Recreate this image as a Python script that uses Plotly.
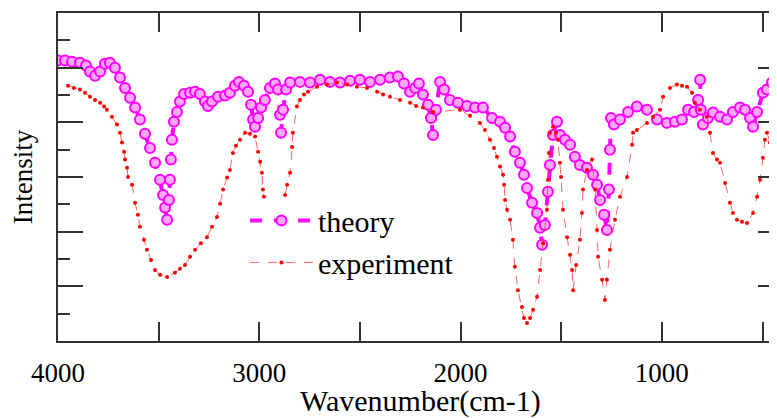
import plotly.graph_objects as go

# Theory spectrum (wavenumber cm-1, intensity)
theory_wn = [4000, 3965, 3930, 3891, 3861, 3841, 3816, 3791, 3767, 3742, 3717, 3692, 3667, 3642, 3617,
             3593, 3568, 3543, 3518, 3493, 3478, 3468, 3458, 3449, 3444, 3439, 3434, 3424, 3409, 3394,
             3374, 3344, 3319, 3295, 3270, 3255, 3235, 3205, 3170, 3146, 3121, 3101, 3076, 3056, 3041,
             3031, 3021, 3006, 2991, 2972, 2947, 2922, 2907, 2897, 2892, 2882, 2867, 2847, 2798, 2748,
             2698, 2649, 2599, 2549, 2500, 2450, 2400, 2351, 2311, 2281, 2251, 2226, 2207, 2187, 2162,
             2147, 2137, 2122, 2102, 2082, 2053, 2013, 1968, 1928, 1889, 1844, 1804, 1779, 1754, 1730,
             1705, 1685, 1670, 1645, 1620, 1605, 1595, 1581, 1566, 1556, 1541, 1521, 1506, 1481, 1456,
             1432, 1407, 1372, 1342, 1322, 1307, 1287, 1273, 1263, 1258, 1253, 1238, 1208, 1168, 1124,
             1074, 1024, 975, 935, 900, 870, 840, 820, 810, 806, 796, 771, 746, 711, 676,
             647, 612, 587, 562, 547, 527, 498, 478, 453, 428, 410]
theory_int = [5.13, 5.13, 5.11, 5.09, 5.04, 4.93, 4.85, 4.93, 5.07, 5.09, 5.00, 4.82, 4.63, 4.45, 4.27,
              4.05, 3.79, 3.53, 3.26, 2.95, 2.67, 2.44, 2.22, 2.58, 2.95, 3.32, 3.68, 4.01, 4.19, 4.38,
              4.52, 4.54, 4.56, 4.52, 4.38, 4.30, 4.38, 4.47, 4.49, 4.54, 4.67, 4.74, 4.67, 4.56, 4.32,
              4.05, 3.92, 4.08, 4.27, 4.41, 4.63, 4.71, 4.60, 4.14, 3.81, 4.23, 4.60, 4.73, 4.74, 4.73,
              4.78, 4.74, 4.73, 4.76, 4.78, 4.74, 4.78, 4.82, 4.84, 4.71, 4.56, 4.63, 4.71, 4.51, 4.32,
              4.08, 3.77, 4.23, 4.74, 4.60, 4.41, 4.36, 4.30, 4.27, 4.27, 4.08, 4.01, 3.90, 3.74, 3.46,
              3.26, 3.04, 2.80, 2.53, 2.34, 2.07, 1.76, 2.12, 2.73, 3.22, 3.77, 4.01, 3.77, 3.68, 3.59,
              3.37, 3.22, 3.17, 3.04, 2.86, 2.58, 2.31, 2.03, 2.77, 3.50, 4.08, 3.96, 4.05, 4.19, 4.29,
              4.23, 4.05, 3.99, 4.01, 4.05, 4.23, 4.19, 4.41, 4.78, 4.23, 3.96, 4.08, 4.18, 4.10, 4.05,
              4.19, 4.27, 4.23, 4.08, 3.92, 4.19, 4.54, 4.60, 4.73, 4.82, 4.90]

# Experimental spectrum (None marks a gap in the record)
exp_wn = [3950, 3921, 3891, 3866, 3841, 3816, 3791, 3771, 3757, 3732, 3707, 3692, 3682, 3672, 3667,
          3657, 3652, 3632, 3617, 3603, 3593, 3573, 3558, 3538, 3518, 3493, 3458, 3419, 3394, 3369,
          3344, 3319, 3290, 3260, 3235, 3210, 3195, 3180, 3160, 3146, 3131, 3116, 3096, 3071, 3046,
          3021, 3006, 2996, 2987, 2982, 2977, None, 2872, 2862, 2847, 2837, 2833, 2813, 2798, 2778,
          2758, 2713, 2664, 2614, 2564, 2515, 2465, 2415, 2385, 2351, 2301, 2251, 2221, 2187, 2137,
          2003, 1953, 1904, 1879, 1854, 1834, 1819, 1804, 1789, 1784, 1779, 1769, 1754, 1740, 1730,
          1715, 1695, 1685, 1670, 1655, 1640, 1620, 1605, 1590, 1571, 1566, 1561, 1556, 1541, 1526,
          1516, 1506, 1501, 1491, 1471, 1456, 1446, 1441, 1426, 1407, 1397, 1392, 1372, 1347, 1332,
          1322, 1317, 1297, 1283, 1273, 1258, 1233, 1208, 1173, 1148, 1143, 1124, 1074, 1044, 1009,
          994, 960, 925, 900, 875, 850, 836, 811, 776, 761, 746, 726, 711, 686, 662,
          647, 627, 602, 577, 547, 527, 512, 498, 488, 478, 463, 448, 428]
exp_int = [4.67, 4.63, 4.60, 4.54, 4.47, 4.41, 4.36, 4.29, 4.23, 4.10, 3.96, 3.81, 3.63, 3.46, 3.32,
           3.17, 3.00, 2.86, 2.53, 2.31, 2.09, 1.85, 1.67, 1.48, 1.30, 1.21, 1.17, 1.25, 1.32, 1.39,
           1.54, 1.67, 1.79, 1.90, 2.09, 2.27, 2.51, 2.77, 2.99, 3.13, 3.44, 3.57, 3.68, 3.81, 3.79,
           3.74, 3.46, 3.28, 3.08, 2.77, 2.64, None, 2.67, 2.86, 3.08, 3.55, 3.81, 4.29, 4.41, 4.51,
           4.56, 4.65, 4.69, 4.73, 4.69, 4.65, 4.63, 4.56, 4.51, 4.47, 4.41, 4.36, 4.30, 4.27, 4.19,
           4.23, 4.12, 3.99, 3.86, 3.68, 3.53, 3.37, 3.19, 3.04, 2.86, 2.58, 2.40, 2.22, 1.85, 1.36,
           0.93, 0.62, 0.42, 0.33, 0.42, 0.57, 0.81, 1.30, 1.79, 2.40, 2.95, 3.44, 3.81, 3.92, 3.81,
           3.68, 3.26, 3.00, 2.40, 1.90, 1.58, 1.30, 0.93, 1.39, 1.85, 2.34, 2.77, 3.13, 3.32, 2.77,
           2.03, 1.54, 1.12, 0.75, 1.12, 1.67, 2.22, 2.64, 3.00, 3.59, 3.81, 3.86, 3.99, 4.10, 4.23,
           4.47, 4.63, 4.69, 4.67, 4.65, 4.54, 4.36, 4.23, 4.10, 3.81, 3.44, 3.32, 3.26, 2.89, 2.53,
           2.34, 2.22, 2.18, 2.16, 2.34, 2.64, 2.95, 3.35, 3.68, 3.81, 3.63, 3.50, 3.59]

x_tick_vals = [4000, 3000, 2000, 1000]
x_tick_text = ["4000", "3000", "2000", "1000"]
x_title = "Wavenumber(cm-1)"
y_title = "Intensity"

FONT = "Liberation Serif"
AXC = "#333333"
TXT = "#000000"

fig = go.Figure()
fig.add_trace(go.Scatter(
    x=theory_wn, y=theory_int, name="theory", mode="lines+markers",
    line=dict(color="#FF00FF", width=4, dash="dash"),
    marker=dict(symbol="circle", size=10, color="#FFA8FF",
                line=dict(color="#FF00FF", width=2)),
))
fig.add_trace(go.Scatter(
    x=exp_wn, y=exp_int, name="experiment", mode="lines+markers", connectgaps=False,
    line=dict(color="rgba(255,50,50,0.75)", width=1, dash="dash"),
    marker=dict(symbol="circle", size=4, color="#FF0000"),
))
# helper trace so that the right-hand tick axis is drawn
fig.add_trace(go.Scatter(x=[None], y=[None], yaxis="y2", showlegend=False,
                         hoverinfo="skip", mode="lines"))

fig.update_layout(
    width=769, height=410,
    margin=dict(l=50, r=0, t=5, b=77, autoexpand=False),
    paper_bgcolor="white", plot_bgcolor="white",
    font=dict(family=FONT, color=TXT),
    showlegend=True,
    legend=dict(x=0.26, y=0.447, xanchor="left", yanchor="top",
                bgcolor="rgba(0,0,0,0)", borderwidth=0,
                font=dict(family=FONT, size=30, color=TXT),
                itemwidth=63, tracegroupgap=0),
    xaxis=dict(
        range=[4000, 428], showgrid=False, zeroline=False, automargin=False,
        showline=True, linecolor=AXC, linewidth=2, mirror="allticks",
        ticks="inside", ticklen=19, tickwidth=2, tickcolor=AXC,
        tickvals=x_tick_vals, ticktext=x_tick_text,
        tickfont=dict(family=FONT, size=27, color=TXT),
        ticklabelstandoff=7,
        minor=dict(dtick=500, ticks="inside", ticklen=9, tickwidth=2, tickcolor=AXC, showgrid=False),
    ),
    yaxis=dict(
        range=[0, 6], showgrid=False, zeroline=False, automargin=False,
        showline=True, linecolor=AXC, linewidth=2, mirror=False,
        ticks="inside", ticklen=25, tickwidth=2, tickcolor=AXC,
        dtick=1, tick0=0, showticklabels=False,
        minor=dict(dtick=0.5, ticks="inside", ticklen=12, tickwidth=2, tickcolor=AXC, showgrid=False),
        title=dict(text=y_title, font=dict(family=FONT, size=27, color=TXT), standoff=16),
    ),
    yaxis2=dict(
        range=[0, 6], overlaying="y", side="right", anchor="x", automargin=False,
        showgrid=False, zeroline=False, showline=False,
        ticks="inside", ticklen=19, tickwidth=2, tickcolor=AXC,
        dtick=1, tick0=0, showticklabels=False,
        minor=dict(dtick=0.5, ticks="inside", ticklen=6, tickwidth=2, tickcolor=AXC, showgrid=False),
    ),
    annotations=[dict(text=x_title, xref="paper", yref="paper", x=0.504, y=0,
                      xanchor="center", yanchor="middle", yshift=-60, showarrow=False,
                      font=dict(family=FONT, size=30, color=TXT))],
)

fig.write_html("out.html")
